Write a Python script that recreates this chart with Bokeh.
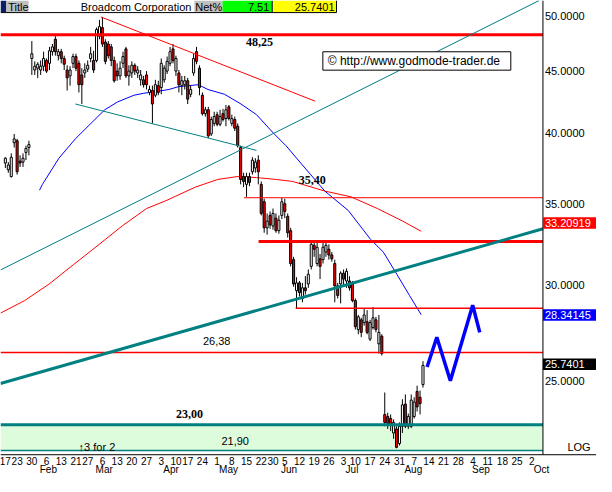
import math
from bokeh.plotting import figure
from bokeh.models import Range1d
from bokeh.core.properties import value
from bokeh.embed import file_html
from bokeh.resources import INLINE

# ---------------- data (trading-day index 0 = 17 Jan 2006) ----------------
opens = [37.81, 37.33, 36.85, 39.30, 39.45, 37.95, 37.88, 38.58, 38.94,
         46.12, 45.12, 45.28, 45.12, 45.45, 45.95, 45.70, 46.72, 47.84, 46.37,
         46.72, 46.12, 45.12, 44.62, 45.70, 46.29, 45.70, 44.70, 44.87, 45.20,
         46.12, 45.95, 45.95, 48.12, 48.91, 47.58, 47.41, 47.15, 45.95, 45.03,
         44.62, 45.70, 46.97, 44.62, 44.87, 45.53, 44.87, 44.29, 44.29, 44.70,
         43.24, 43.40, 43.01, 43.80, 43.64, 44.29, 45.03, 45.70, 46.97, 45.03,
         44.87, 43.80, 43.88, 44.21, 43.09, 44.87, 46.72, 45.28, 43.01, 41.53,
         41.84, 39.96, 40.77, 41.45, 40.70, 41.53, 41.15, 42.07, 40.77, 41.07,
         40.55, 38.94, 36.85, 36.31, 36.85, 37.19, 37.46, 38.02, 36.31, 35.13,
         33.43, 34.23, 33.55, 34.05, 33.25, 34.23, 35.00, 34.17, 33.25, 31.47,
         29.67, 30.11, 29.23, 29.83, 30.05, 31.07, 32.34, 31.24, 31.52, 31.47,
         31.93, 32.10, 31.75, 31.24, 29.94, 30.05, 30.67, 30.22, 30.22, 30.05,
         29.12, 27.56, 28.07, 27.92, 27.97, 27.06, 27.66, 28.07, 26.82, 27.21,
         23.45, 23.36, 23.27, 22.64, 22.81, 22.19, 22.93, 23.92, 22.93, 22.93,
         23.36, 24.50, 24.23, 24.82]
highs = [38.23, 37.88, 38.51, 39.96, 39.59, 38.37, 38.51, 39.08, 39.45,
         47.67, 45.87, 45.79, 45.95, 46.72, 46.12, 47.15, 47.41, 48.12, 46.97,
         46.97, 46.37, 45.53, 45.45, 46.54, 46.54, 45.95, 45.28, 45.70, 45.95,
         47.15, 46.80, 48.91, 49.63, 49.91, 47.84, 47.67, 47.41, 46.29, 45.70,
         45.87, 46.72, 47.15, 45.53, 45.87, 45.70, 45.45, 45.12, 44.62, 45.03,
         43.80, 43.80, 44.29, 44.21, 46.12, 45.53, 46.29, 47.15, 47.41, 46.37,
         45.12, 44.62, 44.62, 44.45, 43.80, 46.54, 47.15, 45.53, 43.24, 42.07,
         42.07, 41.30, 41.68, 41.68, 41.84, 41.91, 42.22, 42.22, 41.45, 41.30,
         40.77, 39.08, 37.12, 37.12, 37.12, 38.23, 38.16, 38.37, 36.51, 35.33,
         34.36, 34.49, 34.68, 34.36, 34.23, 35.39, 35.33, 34.36, 33.43, 31.64,
         30.44, 30.22, 30.11, 30.50, 30.89, 32.64, 32.64, 32.52, 31.81, 32.52,
         32.52, 32.40, 31.93, 31.47, 30.11, 30.78, 30.89, 30.95, 30.50, 30.22,
         29.23, 28.33, 28.18, 28.70, 28.59, 28.07, 28.75, 28.23, 28.33, 27.31,
         24.45, 23.53, 23.45, 23.23, 22.93, 23.10, 24.14, 24.36, 23.49, 24.36,
         24.23, 24.77, 24.54, 25.95]
lows = [37.46, 37.12, 36.78, 38.94, 36.99, 37.53, 37.53, 38.02, 38.37,
        44.70, 44.70, 44.45, 44.70, 45.03, 44.87, 45.12, 46.37, 46.37, 45.95,
        45.70, 45.12, 43.40, 43.80, 45.28, 45.03, 43.24, 42.30, 44.45, 44.95,
        45.79, 44.87, 45.79, 47.84, 47.15, 45.62, 46.12, 45.45, 44.05, 44.21,
        44.29, 45.28, 44.45, 43.80, 44.45, 44.70, 44.45, 43.80, 43.64, 43.48,
        43.01, 40.77, 42.85, 43.01, 43.09, 44.05, 44.78, 45.45, 45.70, 44.62,
        43.24, 43.01, 43.48, 42.30, 42.85, 44.62, 45.62, 43.01, 41.38, 41.30,
        39.66, 39.81, 40.55, 40.55, 40.55, 40.92, 40.55, 41.00, 40.55, 40.18,
        38.94, 36.31, 36.12, 35.46, 36.18, 36.99, 37.12, 36.31, 34.23, 33.12,
        33.00, 33.37, 33.31, 33.12, 33.06, 33.99, 34.05, 32.82, 31.07, 29.89,
        28.70, 29.34, 29.02, 29.45, 29.83, 30.89, 31.64, 31.07, 30.33, 31.24,
        31.64, 31.47, 31.35, 29.02, 29.23, 28.96, 29.94, 29.83, 29.67, 29.02,
        27.56, 27.31, 27.16, 27.76, 27.31, 26.96, 27.56, 27.41, 26.33, 26.23,
        22.93, 22.81, 22.72, 22.39, 21.99, 22.11, 22.64, 22.85, 22.81, 22.85,
        23.27, 23.58, 23.45, 24.68]
closes = [38.16, 37.67, 38.23, 39.59, 37.19, 37.81, 38.16, 38.87, 39.16,
          46.54, 45.45, 45.62, 45.45, 46.12, 45.03, 46.80, 47.15, 46.72, 46.72,
          46.12, 45.62, 44.45, 45.12, 46.29, 45.28, 43.88, 43.88, 45.12, 45.53,
          46.54, 45.12, 48.73, 49.00, 47.41, 45.87, 46.37, 45.95, 44.21, 44.62,
          45.28, 46.29, 44.62, 45.03, 45.53, 45.03, 45.12, 44.70, 43.88, 43.88,
          43.48, 42.30, 43.88, 43.24, 45.70, 45.28, 45.87, 46.72, 45.95, 46.12,
          43.88, 44.21, 44.21, 42.69, 43.48, 46.12, 45.87, 43.64, 41.53, 41.84,
          39.81, 41.07, 41.30, 40.70, 41.30, 41.07, 41.84, 41.15, 41.15, 40.40,
          39.08, 36.65, 36.51, 36.85, 36.45, 38.02, 37.88, 37.19, 34.36, 33.43,
          33.86, 33.62, 34.36, 33.25, 33.92, 35.13, 34.49, 33.12, 31.24, 30.05,
          30.11, 29.56, 29.83, 29.67, 30.61, 32.40, 32.10, 32.22, 31.07, 32.22,
          32.34, 31.75, 31.52, 29.94, 29.40, 30.67, 30.33, 30.78, 29.83, 29.12,
          27.71, 28.23, 27.41, 28.33, 27.41, 27.92, 28.18, 27.56, 27.41, 26.33,
          23.10, 23.06, 23.02, 23.10, 22.03, 22.93, 23.88, 22.93, 23.36, 24.10,
          24.01, 23.79, 23.94, 25.74]

# weekly ticks (trading-day index) and their labels
tick_days = [0, 4, 9, 14, 19, 24, 28, 33, 38, 43, 48, 53, 58, 62, 67, 72, 77, 82,
             87, 91, 95, 100, 105, 110, 115, 119, 124, 129, 134, 139, 144, 149,
             154, 159, 164, 169, 174, 179]
tick_labels = ["17", "23", "30", "6", "13", "21", "27", "6", "13", "20", "27", "3",
               "10", "17", "24", "1", "8", "15", "22", "30", "5", "12", "19", "26",
               "3", "10", "17", "24", "31", "7", "14", "21", "28", "4", "11", "18",
               "25", "2"]
# first trading day of each month
month_days = [11, 30, 53, 72, 93, 115, 135, 158, 179]
month_labels = ["Feb", "Mar", "Apr", "May", "Jun", "Jul", "Aug", "Sep", "Oct"]
price_ticks = [25, 30, 35, 40, 45, 50]
price_tick_labels = ["25.0000", "30.0000", "35.0000", "40.0000", "45.0000", "50.0000"]

blue_ma_x = [11.6, 12.6, 18.2, 23.8, 29.1, 33.8, 38.1, 43.7, 47.0, 51.3, 55.6, 58.9,
             62.3, 65.6, 68.9, 74.5, 80.1, 85.4, 91.1, 95.4, 101.0, 108.6, 116.6,
             124.2, 128.5, 133.1, 137.4, 141.4]
blue_ma_y = [35.91, 36.31, 38.16, 39.59, 40.77, 41.84, 42.46, 43.01, 43.17, 43.32,
             43.48, 43.72, 43.80, 43.88, 43.48, 43.09, 42.30, 41.45, 40.03, 39.08,
             37.67, 35.85, 34.55, 32.70, 31.93, 30.61, 29.40, 28.34]
red_ma_x = [-1.66, 6.6, 14.9, 23.2, 31.5, 39.7, 48.0, 54.6, 64.6, 72.2, 78.8, 85.4,
            92.1, 97.7, 108.6, 117.5, 126.5, 135.1, 141.4]
red_ma_y = [28.43, 29.12, 30.05, 31.18, 32.34, 33.55, 34.68, 35.20, 36.12, 36.65,
            36.85, 36.78, 36.65, 36.51, 35.85, 35.46, 34.68, 33.86, 33.21]

proj_x = [143.4, 146.7, 151.3, 158.9, 161.3]
proj_y = [25.66, 27.16, 25.00, 28.86, 27.41]

level_values = [48.25, 35.40, 32.58, 28.70, 26.38, 23.00, 21.90]
level_start = [-1.66, 81.1, 86.1, 98.7, -1.66, -1.66, -1.66]
level_colors = ["#ff0000", "#ff0000", "#ff0000", "#ff0000", "#ff0000", "#008080", "#008080"]
level_widths = [3, 1, 3, 1.5, 1.5, 3, 1.5]

trend_x0 = [32.5, 23.8, -1.66, -1.66]
trend_y0 = [49.91, 42.30, 30.86, 24.87]
trend_x1 = [105.3, 85.4, 181.5, 182.8]
trend_y1 = [42.53, 38.73, 51.49, 33.37]
trend_colors = ["#ff0000", "#008080", "#008080", "#008080"]
trend_widths = [1, 1, 1, 3]

last_close = 25.7401
net_pct = 7.51
ma_fast_last = 28.34145
ma_slow_last = 33.20919


# ---------------- helpers: reference-pixel position -> data coordinates ----------------
def X(px):
    return (px - 5) / 3.02


def Y(py):
    return 50 * math.exp(-(py - 16) / 544)


SANS = "Liberation Sans"
SERIF = "Liberation Serif"

p = figure(width=596, height=476, x_range=Range1d(X(0), X(612)),
           y_range=Range1d(Y(492), Y(0)), y_axis_type="log",
           x_axis_location=None, y_axis_location=None,
           output_backend="svg", toolbar_location=None,
           min_border_left=0, min_border_top=0, min_border_right=0, min_border_bottom=0)
p.outline_line_color = None
p.xgrid.visible = False
p.ygrid.visible = False
p.background_fill_color = "white"
p.border_fill_color = "white"

RIGHT = X(557)

# support zone
p.quad(left=[X(0)], right=[RIGHT], top=[23.00], bottom=[21.90],
       fill_color="#dcfcdc", line_color=None)

# moving averages
p.line(red_ma_x, red_ma_y, line_color="#ff0000", line_width=1)
p.line(blue_ma_x, blue_ma_y, line_color="#0000ff", line_width=1)

# candles
idx = list(range(len(opens)))
body_top = [max(o, c) for o, c in zip(opens, closes)]
body_bot = [min(o, c) for o, c in zip(opens, closes)]
body_col = ["white" if c >= o else "#ff0000" for o, c in zip(opens, closes)]
p.segment(x0=idx, y0=highs, x1=idx, y1=lows, line_color="black", line_width=1)
p.vbar(x=idx, width=0.7, top=body_top, bottom=body_bot, fill_color=body_col,
       line_color="black", line_width=1)

# horizontal levels
p.segment(x0=level_start, y0=level_values, x1=[RIGHT] * len(level_values), y1=level_values,
          line_color=level_colors, line_width=level_widths)

# trend lines
p.segment(x0=trend_x0, y0=trend_y0, x1=trend_x1, y1=trend_y1,
          line_color=trend_colors, line_width=trend_widths)

# projection
p.line(proj_x, proj_y, line_color="#0000ff", line_width=3.5)

# level labels
p.text(x=[X(266), X(320), X(194)], y=[Y(43), Y(186), Y(427)],
       text=["48,25", "35,40", "23,00"], text_align="center", text_baseline="middle",
       text_font=value(SERIF), text_font_style="bold", text_font_size="12px",
       text_color="black")
p.text(x=[X(222), X(241), X(99)], y=[Y(352), Y(455), Y(461)],
       text=["26,38", "21,90", "\u21913 for 2"], text_align="center", text_baseline="middle",
       text_font=value(SANS), text_font_size="11px", text_color="black")

# copyright box
p.quad(left=[X(331)], right=[X(524)], top=[Y(53)], bottom=[Y(72)],
       fill_color="white", line_color="black", line_width=1)
p.text(x=[X(336)], y=[Y(62.5)], text=["\u00a9 http://www.godmode-trader.de"],
       text_align="left", text_baseline="middle", text_font=value(SANS),
       text_font_size="12px", text_color="black")

# header bar
hx0 = [X(0), X(6), X(29), X(199), X(228), X(280)]
hx1 = [X(6), X(29), X(199), X(228), X(279), X(345)]
hcol = ["#0b1f66", "#c0c0c0", "white", "#c0c0c0", "#00ff00", "#ffff00"]
p.quad(left=hx0, right=hx1, top=[Y(0)] * 6, bottom=[Y(12)] * 6, fill_color=hcol,
       line_color=None)
p.segment(x0=[X(0), X(279), X(345)], y0=[Y(12.5), Y(0), Y(0)],
          x1=[X(345), X(279), X(345)], y1=[Y(12.5), Y(12), Y(12.5)],
          line_color="black", line_width=1)
p.text(x=[X(8), X(200)], y=[Y(6.5)] * 2, text=["Title", "Net%"], text_align="left",
       text_baseline="middle", text_font=value(SANS), text_font_size="11px",
       text_color="black")
p.text(x=[X(196), X(276), X(343)], y=[Y(6.5)] * 3,
       text=["Broadcom Corporation", f"{net_pct:.2f}", f"{last_close:.4f}"],
       text_align="right", text_baseline="middle", text_font=value(SANS),
       text_font_size="11px", text_color="black")

# ---------------- axes (drawn on the plot's own scales) ----------------
# axis lines
p.segment(x0=[RIGHT, X(0)], y0=[Y(0), Y(469.5)], x1=[RIGHT, X(612)], y1=[Y(469.5), Y(469.5)],
          line_color="black", line_width=1)

# right price scale
p.text(x=[X(559)] * len(price_ticks), y=price_ticks, text=price_tick_labels,
       text_align="left", text_baseline="middle", text_font=value(SANS),
       text_font_size="11px", text_color="black")

# last-value boxes on the price scale
box_txt = [f"{ma_slow_last:.5f}", f"{ma_fast_last:.5f}", f"{last_close:.4f}"]
box_mid = [Y(230), Y(325), Y(376)]
box_top = [Y(224), Y(319), Y(370)]
box_bot = [Y(236), Y(331), Y(382)]
box_col = ["#ff0000", "#0000ff", "black"]
p.quad(left=[RIGHT] * 3, right=[X(612)] * 3, top=box_top, bottom=box_bot,
       fill_color=box_col, line_color=None)
p.text(x=[X(559)] * 3, y=box_mid, text=box_txt, text_align="left", text_baseline="middle",
       text_font=value(SANS), text_font_size="11px", text_color="white")

p.text(x=[X(606)], y=[Y(462)], text=["LOG"], text_align="right", text_baseline="middle",
       text_font=value(SANS), text_font_size="11px", text_color="black")

# time scale
p.text(x=tick_days, y=[Y(475.5)] * len(tick_days), text=tick_labels, text_align="center",
       text_baseline="middle", text_font=value(SANS), text_font_size="10px",
       text_color="black")
p.text(x=month_days, y=[Y(484.5)] * len(month_days), text=month_labels, text_align="left",
       x_offset=2, text_baseline="middle", text_font=value(SANS), text_font_size="10px",
       text_color="black")

open("out.html", "w").write(file_html(p, INLINE))
